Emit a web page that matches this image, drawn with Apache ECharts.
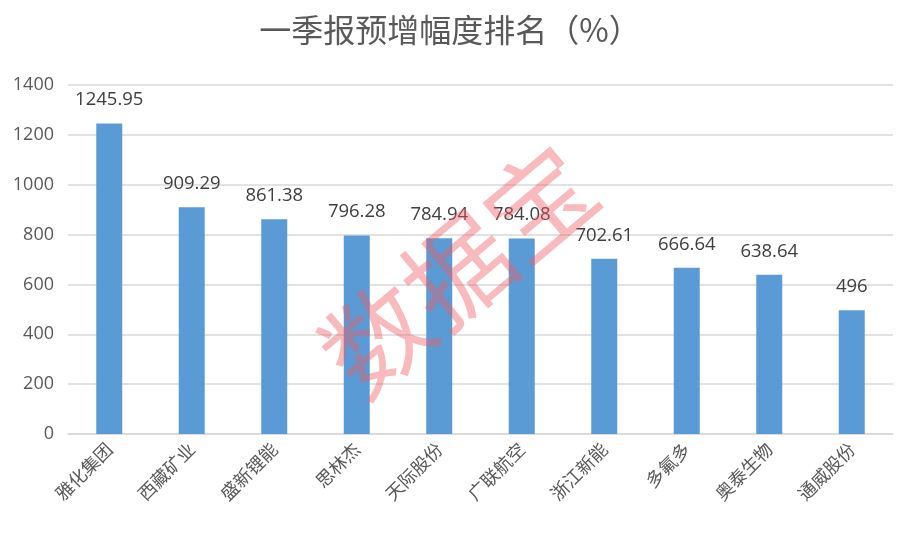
<!DOCTYPE html>
<html><head><meta charset="utf-8">
<script src="https://cdn.jsdelivr.net/npm/echarts@6/dist/echarts.min.js"></script>
<style>html,body{margin:0;padding:0;background:#fff}#c{width:900px;height:536px}</style>
</head><body><div id="c"></div>
<script>
var titleText = '一季报预增幅度排名（%）';
var categories = ['雅化集团','西藏矿业','盛新锂能','思林杰','天际股份','广联航空','浙江新能','多氟多','奥泰生物','通威股份'];
var values = [1245.95, 909.29, 861.38, 796.28, 784.94, 784.08, 702.61, 666.64, 638.64, 496];
var watermarkText = '数据宝';

var chart = echarts.init(document.getElementById('c'));
chart.setOption({
  backgroundColor: '#fff',
  animation: false,
  title: {text: titleText, left: 'center', top: 9,
    textStyle: {fontSize: 32, fontWeight: 'normal', color: '#595959', fontFamily: 'Noto Sans CJK SC'}},
  grid: {left: 68, right: 7, top: 85, bottom: 102, containLabel: false},
  xAxis: {type: 'category', data: categories,
    axisLine: {lineStyle: {color: '#d9d9d9', width: 1.5}},
    axisTick: {show: false},
    axisLabel: {rotate: 45, interval: 0, fontSize: 18, color: '#595959', margin: 12, fontFamily: 'Noto Sans CJK SC'}},
  yAxis: {type: 'value', min: 0, max: 1400, interval: 200,
    axisLine: {show: false}, axisTick: {show: false},
    splitLine: {lineStyle: {color: '#d9d9d9', width: 1.5}},
    axisLabel: {fontSize: 18, color: '#595959', margin: 14, fontFamily: 'Open Sans',
      formatter: function (v) { return String(v); }}},
  series: [{type: 'bar', data: values, barWidth: 26,
    itemStyle: {color: '#5b9bd5'},
    label: {show: true, position: 'top', distance: 14, fontSize: 18.5, color: '#404040', fontFamily: 'Open Sans'}}],
  graphic: [{type: 'text', z: 100,
    x: 458, y: 270, rotation: 40 * Math.PI / 180,
    style: {text: watermarkText, fontSize: 106, fill: 'rgba(240,90,100,0.42)', fontFamily: 'Noto Sans CJK SC',
      align: 'center', verticalAlign: 'middle'}}]
});
</script></body></html>
